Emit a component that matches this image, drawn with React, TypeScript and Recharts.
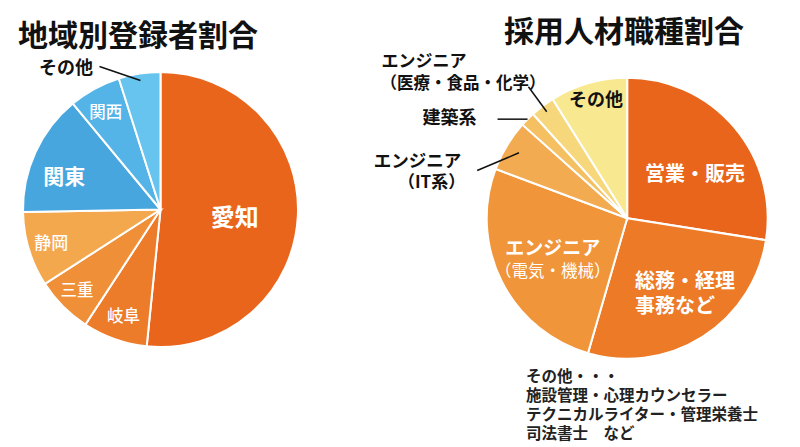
import React from "react";
import { PieChart, Pie, Cell } from "recharts";

const FONT = '"Noto Sans CJK JP", "Noto Sans", sans-serif';

// 地域別登録者割合 (%)
const regionNames = ["愛知", "岐阜", "三重", "静岡", "関東", "関西", "その他"];
const regionShares = [51.6, 7.6, 6.7, 8.8, 14.3, 6.1, 4.9];
const regionColors = ["#E9651C", "#EC7B2A", "#EF8F37", "#F3A84E", "#47A6DD", "#55B4E7", "#66C4EF"];

// 採用人材職種割合 (%)
const jobNames = [
  "営業・販売",
  "総務・経理事務など",
  "エンジニア（電気・機械）",
  "エンジニア（IT系）",
  "建築系",
  "エンジニア（医療・食品・化学）",
  "その他",
];
const jobShares = [27.5, 27.0, 26.2, 5.9, 1.7, 2.8, 8.9];
const jobColors = ["#E9651C", "#EC7A27", "#F0953A", "#F3AB51", "#F5C062", "#F7D77B", "#F8E890"];

const otherJobsNote = [
  "その他・・・",
  "施設管理・心理カウンセラー",
  "テクニカルライター・管理栄養士",
  "司法書士　など",
];

const regionData = regionNames.map((name, i) => ({ name, value: regionShares[i] }));
const jobData = jobNames.map((name, i) => ({ name, value: jobShares[i] }));

type LabelLine = {
  text: string;
  dx: number;
  dy: number;
  anchor: "start" | "middle" | "end";
  size?: number;
  weight?: number;
};
type LabelLayout = {
  f: number; // fraction of radius for the anchor point
  color: string;
  size: number;
  weight: number;
  lines: LabelLine[];
  leader?: [number, number]; // leader line start, relative to anchor point
};

const mid = (text: string, dx: number, dy: number): LabelLine => ({ text, dx, dy, anchor: "middle" });

const regionLabels: LabelLayout[] = [
  { f: 0.54, color: "#fff", size: 24, weight: 700, lines: [mid("愛知", 0, 2)] },
  { f: 0.81, color: "#fff", size: 16.5, weight: 500, lines: [mid("岐阜", 0, 0)] },
  { f: 0.83, color: "#fff", size: 16.5, weight: 500, lines: [mid("三重", -2.5, -1)] },
  { f: 0.83, color: "#fff", size: 17, weight: 500, lines: [mid("静岡", 0, -1.5)] },
  { f: 0.77, color: "#fff", size: 21, weight: 700, lines: [mid("関東", 0, 10)] },
  { f: 0.83, color: "#fff", size: 16.5, weight: 500, lines: [mid("関西", 0, 2)] },
  {
    f: 0.95, color: "#111", size: 18, weight: 700,
    lines: [{ text: "その他", dx: -47.5, dy: -14.5, anchor: "end" }],
    leader: [-41, -14],
  },
];

const jobLabels: LabelLayout[] = [
  { f: 0.65, color: "#fff", size: 20, weight: 700, lines: [mid("営業・販売", -1.6, 14)] },
  {
    f: 0.6, color: "#fff", size: 20, weight: 700,
    lines: [
      { text: "総務・経理", dx: -37.4, dy: -9.4, anchor: "start" },
      { text: "事務など", dx: -37.4, dy: 15.6, anchor: "start" },
    ],
  },
  {
    f: 0.6, color: "#fff", size: 19, weight: 700,
    lines: [
      mid("エンジニア", 1, -9.5),
      { text: "（電気・機械）", dx: 1, dy: 14.5, anchor: "middle", size: 16.5, weight: 400 },
    ],
  },
  {
    f: 0.9, color: "#111", size: 17.5, weight: 700,
    lines: [
      { text: "エンジニア", dx: -57.8, dy: 6.2, anchor: "end" },
      { text: "（IT系）", dx: -53.8, dy: 28, anchor: "end", size: 17 },
    ],
    leader: [-41.8, 17.7],
  },
  {
    f: 1.0, color: "#111", size: 18, weight: 700,
    lines: [{ text: "建築系", dx: -51, dy: -2.7, anchor: "end" }],
    leader: [-30, 0],
  },
  {
    f: 0.95, color: "#111", size: 17, weight: 700,
    lines: [
      { text: "エンジニア", dx: -165.3, dy: -51.8, anchor: "start" },
      { text: "（医療・食品・化学）", dx: -166.3, dy: -30, anchor: "start", size: 16.5 },
    ],
    leader: [-18.3, -24.9],
  },
  { f: 0.88, color: "#111", size: 18, weight: 700, lines: [mid("その他", 3, -1.5)] },
];

const RAD = Math.PI / 180;

const makeLabel = (layout: LabelLayout[]) => (props: any) => {
  const { cx, cy, midAngle, outerRadius, index } = props;
  const L = layout[index];
  if (!L) return null;
  const r = outerRadius * L.f;
  const x = cx + r * Math.cos(-midAngle * RAD);
  const y = cy + r * Math.sin(-midAngle * RAD);
  return (
    <g key={`lbl-${index}`}>
      {L.leader && (
        <line x1={x + L.leader[0]} y1={y + L.leader[1]} x2={x} y2={y} stroke="#111" strokeWidth={1.5} />
      )}
      {L.lines.map((ln, i) => (
        <text
          key={i}
          x={x + ln.dx}
          y={y + ln.dy}
          textAnchor={ln.anchor}
          dominantBaseline="central"
          fill={L.color}
          fontSize={ln.size ?? L.size}
          fontWeight={ln.weight ?? L.weight}
          fontFamily={FONT}
        >
          {ln.text}
        </text>
      ))}
    </g>
  );
};

export default function App() {
  return (
    <div style={{ position: "absolute", left: 0, top: 0, width: 800, height: 447, background: "#fff" }}>
      <PieChart width={800} height={447} margin={{ top: 0, right: 0, bottom: 0, left: 0 }}>
        <Pie
          data={regionData}
          dataKey="value"
          nameKey="name"
          cx={160.5}
          cy={209.5}
          outerRadius={137.5}
          startAngle={90}
          endAngle={-270}
          stroke="#fff"
          strokeWidth={2}
          label={makeLabel(regionLabels)}
          labelLine={false}
          isAnimationActive={false}
        >
          {regionData.map((_, i) => (
            <Cell key={i} fill={regionColors[i]} />
          ))}
        </Pie>
        <Pie
          data={jobData}
          dataKey="value"
          nameKey="name"
          cx={627.2}
          cy={218.2}
          outerRadius={140.5}
          startAngle={90}
          endAngle={-270}
          stroke="#fff"
          strokeWidth={2}
          label={makeLabel(jobLabels)}
          labelLine={false}
          isAnimationActive={false}
        >
          {jobData.map((_, i) => (
            <Cell key={i} fill={jobColors[i]} />
          ))}
        </Pie>
      </PieChart>
      <svg
        width={800}
        height={447}
        style={{ position: "absolute", left: 0, top: 0, pointerEvents: "none" }}
        fontFamily={FONT}
      >
        <text x={18} y={33} fontSize={30} fontWeight={700} fill="#111" dominantBaseline="central">
          地域別登録者割合
        </text>
        <text x={504} y={28.5} fontSize={30} fontWeight={700} fill="#111" dominantBaseline="central">
          採用人材職種割合
        </text>
        {otherJobsNote.map((line, i) => (
          <text
            key={i}
            x={526}
            y={375 + i * 19}
            fontSize={15.5}
            fontWeight={700}
            fill="#222"
            dominantBaseline="central"
          >
            {line}
          </text>
        ))}
      </svg>
    </div>
  );
}
